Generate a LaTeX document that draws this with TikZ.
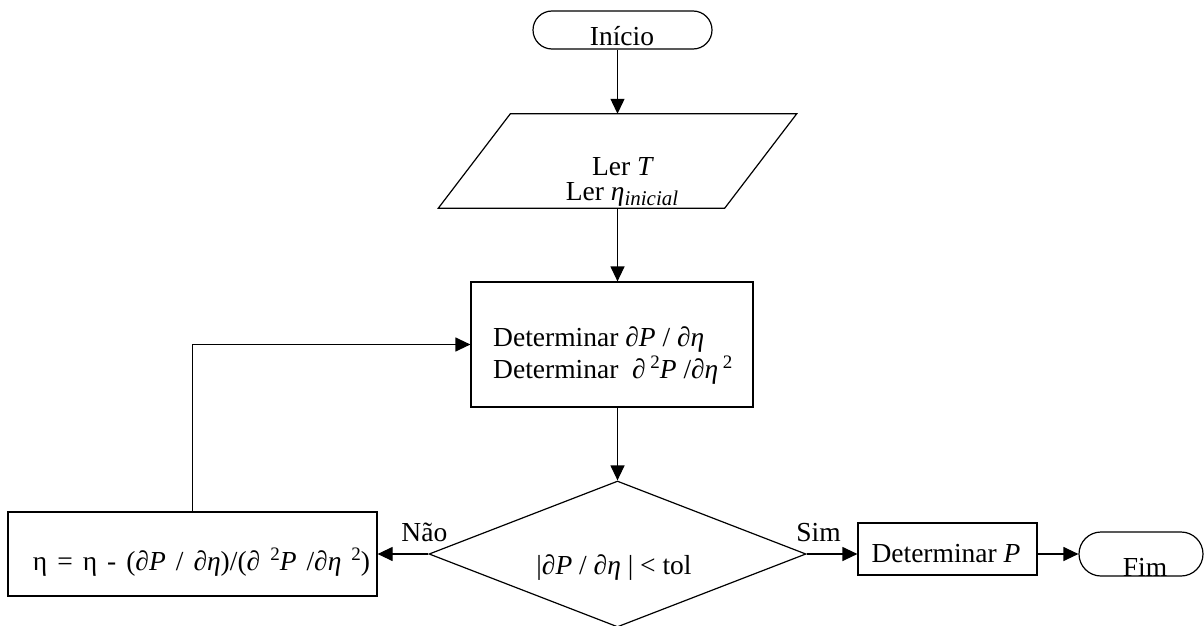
\documentclass[tikz,border=0pt]{standalone}
\usepackage{fontspec}
\setmainfont{Liberation Serif}
\usetikzlibrary{arrows.meta,shapes.geometric,shapes.misc,calc}
% small raised "2" and lowered subscript used in the formulas
\newcommand{\supii}{\raisebox{10pt}{\fontsize{19}{19}\selectfont 2}}
\newcommand{\subinicial}{\raisebox{-5pt}{\fontsize{21}{21}\selectfont\textit{inicial}}}

\begin{document}
\begin{tikzpicture}[x=1pt,y=-1pt,
  font=\fontsize{27.5}{32}\selectfont,
  box/.style={draw, rectangle, inner sep=0pt, line width=1.2pt},
  term/.style={draw, rounded rectangle, inner sep=0pt, line width=1.2pt},
  txt/.style={inner sep=0pt, anchor=base},
  arr/.style={line width=1.2pt, -{Triangle[length=15pt,width=14pt]}},
]
\useasboundingbox (0,0) rectangle (1204,626);

% vertical axis of the main flow
\coordinate (axis) at (617.5,0);

% shapes
\node[term, minimum width=179pt, minimum height=38pt] (inicio) at (622.5,30) {};
\node[inner sep=0pt, minimum width=286pt, minimum height=94pt] (ler) at (617.5,161) {};
\draw[line width=1.2pt] ($(ler.north west)+(36,0)$) -- ($(ler.north east)+(36,0)$)
  -- ($(ler.south east)+(-36,0)$) -- ($(ler.south west)+(-36,0)$) -- cycle;
\node[box, minimum width=282pt, minimum height=125pt] (det) at (612,344.5) {};
\node[draw, diamond, aspect=2.58, inner sep=0pt, line width=1.2pt,
      minimum width=377pt, minimum height=146pt] (dec) at (617.5,554) {};
\node[box, minimum width=369pt, minimum height=84pt] (upd) at (192.5,554) {};
\node[box, minimum width=179pt, minimum height=52pt] (detp) at (947.5,549) {};
\node[term, minimum width=124pt, minimum height=44pt] (fim) at (1141,554) {};

% texts
\node[txt] (t-ini) at (622,46) {Início};
\node[txt] (t-ler1) at (623,175) {Ler \textit{T}};
\node[txt] (t-ler2) at (622,200) {Ler \textit{η}\subinicial};
\node[txt, anchor=base west] (t-det1) at (493,346) {Determinar \textit{∂P} / \textit{∂η}};
\node[txt, anchor=base west] (t-det2) at (493,378) {Determinar \ \textit{∂}\,\supii\textit{P} /\textit{∂η}\,\supii};
\node[txt] (t-dec) at (614,574) {|\textit{∂P} / \textit{∂η} | < tol};
\node[txt] (t-upd) at (201.5,570) {\spaceskip=10pt plus 2pt η = η - (\textit{∂P} / \textit{∂η})/(\textit{∂} \supii\textit{P} /\textit{∂η} \supii)};
\node[txt] (t-detp) at (946,562) {Determinar \textit{P}};
\node[txt] (t-fim) at (1145,576) {Fim};

% connectors
\draw[arr] (inicio.south -| axis) -- (ler.north -| axis);
\draw[arr] (ler.south -| axis) -- (det.north -| axis);
\draw[arr] (det.south -| axis) -- (dec.north);
\draw[arr] (dec.west) -- node[at start, anchor=base, xshift=-4pt, yshift=13pt] (l-nao) {Não} (upd.east);
\draw[arr] (upd.north) |- (det.west);
\draw[arr] (dec.east) -- node[at start, anchor=base, xshift=12pt, yshift=13pt] (l-sim) {Sim} (dec.east -| detp.west);
\draw[arr] (detp.east |- fim.west) -- (fim.west);
\end{tikzpicture}
\end{document}
